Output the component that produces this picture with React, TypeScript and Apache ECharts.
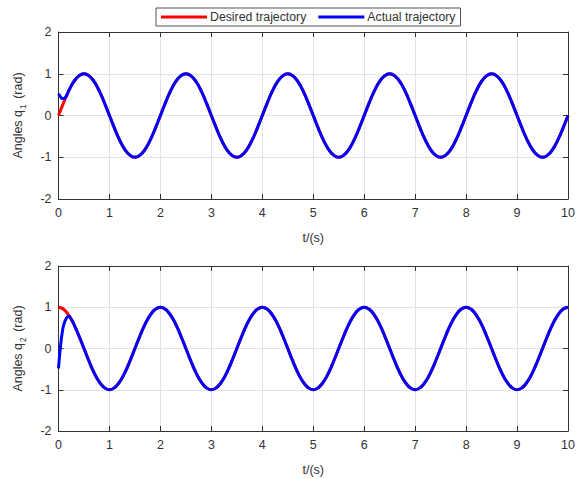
import React, { useEffect, useRef } from "react";
import * as echarts from "echarts";

// sampling grid for the periodic part (0 .. 10 s, step 0.1 s)
const tMain: number[] = Array.from({ length: 101 }, (_, i) => Math.round(i) / 10);

// start-up samples where actual differs from desired
const tStart = [0, 0.025, 0.05, 0.075, 0.1, 0.15, 0.2, 0.25];

const q1Desired = [
  0, 0.31, 0.59, 0.81, 0.95, 1, 0.95, 0.81, 0.59, 0.31, 0, -0.31, -0.59, -0.81, -0.95, -1, -0.95, -0.81, -0.59, -0.31,
  0, 0.31, 0.59, 0.81, 0.95, 1, 0.95, 0.81, 0.59, 0.31, 0, -0.31, -0.59, -0.81, -0.95, -1, -0.95, -0.81, -0.59, -0.31,
  0, 0.31, 0.59, 0.81, 0.95, 1, 0.95, 0.81, 0.59, 0.31, 0, -0.31, -0.59, -0.81, -0.95, -1, -0.95, -0.81, -0.59, -0.31,
  0, 0.31, 0.59, 0.81, 0.95, 1, 0.95, 0.81, 0.59, 0.31, 0, -0.31, -0.59, -0.81, -0.95, -1, -0.95, -0.81, -0.59, -0.31,
  0, 0.31, 0.59, 0.81, 0.95, 1, 0.95, 0.81, 0.59, 0.31, 0, -0.31, -0.59, -0.81, -0.95, -1, -0.95, -0.81, -0.59, -0.31,
  0,
];

const q2Desired = [
  1, 0.95, 0.81, 0.59, 0.31, 0, -0.31, -0.59, -0.81, -0.95, -1, -0.95, -0.81, -0.59, -0.31, 0, 0.31, 0.59, 0.81, 0.95,
  1, 0.95, 0.81, 0.59, 0.31, 0, -0.31, -0.59, -0.81, -0.95, -1, -0.95, -0.81, -0.59, -0.31, 0, 0.31, 0.59, 0.81, 0.95,
  1, 0.95, 0.81, 0.59, 0.31, 0, -0.31, -0.59, -0.81, -0.95, -1, -0.95, -0.81, -0.59, -0.31, 0, 0.31, 0.59, 0.81, 0.95,
  1, 0.95, 0.81, 0.59, 0.31, 0, -0.31, -0.59, -0.81, -0.95, -1, -0.95, -0.81, -0.59, -0.31, 0, 0.31, 0.59, 0.81, 0.95,
  1, 0.95, 0.81, 0.59, 0.31, 0, -0.31, -0.59, -0.81, -0.95, -1, -0.95, -0.81, -0.59, -0.31, 0, 0.31, 0.59, 0.81, 0.95,
  1,
];

const q1ActualStart = [0.52, 0.47, 0.43, 0.41, 0.41, 0.46, 0.59, 0.71];
const q2ActualStart = [-0.48, -0.12, 0.17, 0.4, 0.56, 0.72, 0.78, 0.71];

const legendNames = ["Desired trajectory", "Actual trajectory"];

const FONT = "Liberation Sans, Arial, Helvetica, sans-serif";
const AX = "#333333";
const GRIDC = "#e2e2e2";

function pairs(ts: number[], ys: number[]) {
  return ts.map((t, i) => [t, ys[i]]);
}

function actual(start: number[], desired: number[]) {
  const joinIdx = 3; // t = 0.3 s onward follows desired
  return [...pairs(tStart, start), ...pairs(tMain.slice(joinIdx), desired.slice(joinIdx))];
}

export default function App() {
  const ref = useRef<HTMLDivElement>(null);
  useEffect(() => {
    if (!ref.current) return;
    const chart = echarts.init(ref.current, undefined, { renderer: "svg" });

    const xMain = (gridIndex: number) => ({
      type: "value",
      gridIndex,
      min: 0,
      max: 10,
      interval: 1,
      position: "bottom",
      axisLine: { show: true, onZero: false, lineStyle: { color: AX, width: 1 } },
      axisTick: { show: true, inside: true, length: 5, lineStyle: { color: AX } },
      axisLabel: { color: AX, fontSize: 12.5, fontFamily: FONT, margin: 7 },
      splitLine: { show: true, lineStyle: { color: GRIDC, width: 1 } },
      name: "t/(s)",
      nameLocation: "middle",
      nameGap: 32,
      nameTextStyle: { color: AX, fontSize: 12.5, fontFamily: FONT },
    });
    const xTop = (gridIndex: number) => ({
      type: "value",
      gridIndex,
      min: 0,
      max: 10,
      interval: 1,
      position: "top",
      axisLine: { show: true, onZero: false, lineStyle: { color: AX, width: 1 } },
      axisTick: { show: true, inside: true, length: 5, lineStyle: { color: AX } },
      axisLabel: { show: false },
      splitLine: { show: false },
    });
    const yMain = (gridIndex: number, sub: string) => ({
      type: "value",
      gridIndex,
      min: -2,
      max: 2,
      interval: 1,
      position: "left",
      axisLine: { show: true, onZero: false, lineStyle: { color: AX, width: 1 } },
      axisTick: { show: true, inside: true, length: 5, lineStyle: { color: AX } },
      axisLabel: { color: AX, fontSize: 12.5, fontFamily: FONT, margin: 7 },
      splitLine: { show: true, lineStyle: { color: GRIDC, width: 1 } },
      name: `{a|Angles q}{s|${sub}}{a| (rad)}`,
      nameLocation: "middle",
      nameGap: 31,
      nameRotate: 90,
      nameTextStyle: {
        color: AX,
        fontFamily: FONT,
        rich: {
          a: { fontSize: 12.5, color: AX, fontFamily: FONT, lineHeight: 20, verticalAlign: "middle" },
          s: { fontSize: 8.5, color: AX, fontFamily: FONT, lineHeight: 20, verticalAlign: "bottom", padding: [0, 2, 0, 1] },
        },
      },
    });
    const yRight = (gridIndex: number) => ({
      type: "value",
      gridIndex,
      min: -2,
      max: 2,
      interval: 1,
      position: "right",
      axisLine: { show: true, onZero: false, lineStyle: { color: AX, width: 1 } },
      axisTick: { show: true, inside: true, length: 5, lineStyle: { color: AX } },
      axisLabel: { show: false },
      splitLine: { show: false },
    });

    const lineSeries = (name: string, color: string, data: number[][], xi: number, yi: number) => ({
      name,
      type: "line",
      xAxisIndex: xi,
      yAxisIndex: yi,
      data,
      showSymbol: false,
      smooth: true,
      lineStyle: { color, width: 3 },
      itemStyle: { color },
      clip: true,
    });

    chart.setOption({
      animation: false,
      backgroundColor: "#ffffff",
      grid: [
        { left: 58.5, top: 32, width: 509.5, height: 167 },
        { left: 58.5, top: 266, width: 509.5, height: 165 },
      ],
      legend: {
        data: legendNames,
        top: 8,
        left: 156,
        icon: "rect",
        itemWidth: 46,
        itemHeight: 3,
        itemGap: 12,
        padding: [3, 5],
        borderColor: "#555",
        borderWidth: 1,
        backgroundColor: "#fff",
        textStyle: { color: AX, fontSize: 12.3, fontFamily: FONT, padding: [0, 0, 0, -2] },
      },
      xAxis: [xMain(0), xTop(0), xMain(1), xTop(1)],
      yAxis: [yMain(0, "1"), yRight(0), yMain(1, "2"), yRight(1)],
      series: [
        lineSeries(legendNames[0], "#ff0000", pairs(tMain, q1Desired), 0, 0),
        lineSeries(legendNames[1], "#0000ff", actual(q1ActualStart, q1Desired), 0, 0),
        lineSeries(legendNames[0], "#ff0000", pairs(tMain, q2Desired), 2, 2),
        lineSeries(legendNames[1], "#0000ff", actual(q2ActualStart, q2Desired), 2, 2),
      ],
    });
    return () => chart.dispose();
  }, []);
  return (
    <div
      ref={ref}
      style={{ position: "absolute", left: 0, top: 0, width: 585, height: 479 }}
    />
  );
}
